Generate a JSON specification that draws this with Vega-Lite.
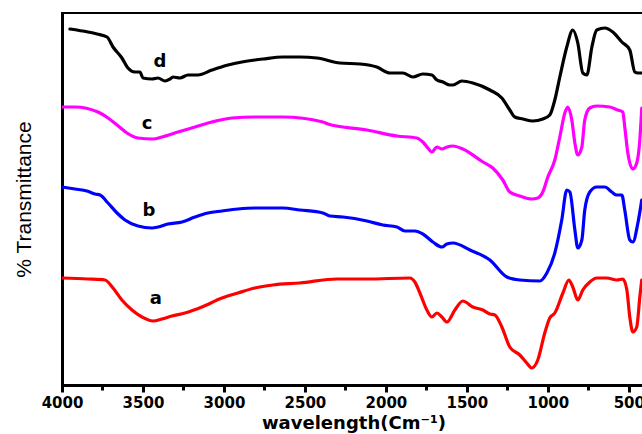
{
  "$schema": "https://vega.github.io/schema/vega-lite/v6.json",
  "width": 583,
  "height": 372,
  "autosize": {"type": "none"},
  "padding": {"left": 62, "top": 13, "right": 0, "bottom": 49},
  "background": "white",
  "config": {"view": {"stroke": "black", "strokeWidth": 2}},
  "resolve": {"axis": {"x": "independent"}},
  "datasets": {
    "spectra": [
      {"s":"d","wn":3951,"t":356},{"s":"d","wn":3840,"t":353},{"s":"d","wn":3784,"t":351},{"s":"d","wn":3722,"t":348},{"s":"d","wn":3685,"t":338},{"s":"d","wn":3630,"t":327},{"s":"d","wn":3593,"t":317},{"s":"d","wn":3549,"t":313},{"s":"d","wn":3519,"t":313},{"s":"d","wn":3500,"t":307},{"s":"d","wn":3444,"t":306},{"s":"d","wn":3407,"t":307},{"s":"d","wn":3364,"t":304},{"s":"d","wn":3333,"t":306},{"s":"d","wn":3315,"t":308},{"s":"d","wn":3272,"t":307},{"s":"d","wn":3222,"t":310},{"s":"d","wn":3160,"t":310},{"s":"d","wn":3074,"t":315},{"s":"d","wn":2975,"t":320},{"s":"d","wn":2889,"t":323},{"s":"d","wn":2809,"t":325},{"s":"d","wn":2759,"t":326},{"s":"d","wn":2636,"t":328},{"s":"d","wn":2531,"t":328},{"s":"d","wn":2426,"t":327},{"s":"d","wn":2284,"t":322},{"s":"d","wn":2160,"t":321},{"s":"d","wn":2056,"t":318},{"s":"d","wn":1975,"t":312},{"s":"d","wn":1895,"t":312},{"s":"d","wn":1833,"t":308},{"s":"d","wn":1772,"t":311},{"s":"d","wn":1716,"t":310},{"s":"d","wn":1685,"t":305},{"s":"d","wn":1648,"t":303},{"s":"d","wn":1605,"t":300},{"s":"d","wn":1586,"t":300},{"s":"d","wn":1531,"t":304},{"s":"d","wn":1463,"t":302},{"s":"d","wn":1358,"t":295},{"s":"d","wn":1284,"t":287},{"s":"d","wn":1235,"t":275},{"s":"d","wn":1204,"t":268},{"s":"d","wn":1154,"t":266},{"s":"d","wn":1093,"t":264},{"s":"d","wn":1031,"t":266},{"s":"d","wn":988,"t":270},{"s":"d","wn":957,"t":285},{"s":"d","wn":926,"t":308},{"s":"d","wn":883,"t":338},{"s":"d","wn":846,"t":355},{"s":"d","wn":815,"t":342},{"s":"d","wn":784,"t":312},{"s":"d","wn":759,"t":310},{"s":"d","wn":728,"t":338},{"s":"d","wn":698,"t":355},{"s":"d","wn":648,"t":357},{"s":"d","wn":599,"t":353},{"s":"d","wn":543,"t":343},{"s":"d","wn":494,"t":335},{"s":"d","wn":463,"t":313},{"s":"d","wn":444,"t":312},{"s":"d","wn":420,"t":312},

      {"s":"c","wn":4000,"t":278},{"s":"c","wn":3920,"t":278},{"s":"c","wn":3778,"t":273},{"s":"c","wn":3716,"t":267},{"s":"c","wn":3660,"t":260},{"s":"c","wn":3599,"t":252},{"s":"c","wn":3531,"t":247},{"s":"c","wn":3438,"t":246},{"s":"c","wn":3383,"t":248},{"s":"c","wn":3284,"t":253},{"s":"c","wn":3179,"t":258},{"s":"c","wn":3074,"t":263},{"s":"c","wn":2951,"t":267},{"s":"c","wn":2809,"t":268},{"s":"c","wn":2636,"t":268},{"s":"c","wn":2389,"t":263},{"s":"c","wn":2358,"t":261},{"s":"c","wn":2117,"t":255},{"s":"c","wn":1932,"t":249},{"s":"c","wn":1809,"t":247},{"s":"c","wn":1772,"t":243},{"s":"c","wn":1741,"t":237},{"s":"c","wn":1716,"t":233},{"s":"c","wn":1685,"t":238},{"s":"c","wn":1654,"t":236},{"s":"c","wn":1623,"t":238},{"s":"c","wn":1586,"t":239},{"s":"c","wn":1525,"t":236},{"s":"c","wn":1401,"t":223},{"s":"c","wn":1340,"t":217},{"s":"c","wn":1278,"t":205},{"s":"c","wn":1235,"t":193},{"s":"c","wn":1173,"t":189},{"s":"c","wn":1099,"t":186},{"s":"c","wn":1062,"t":187},{"s":"c","wn":1031,"t":193},{"s":"c","wn":1000,"t":208},{"s":"c","wn":957,"t":225},{"s":"c","wn":926,"t":248},{"s":"c","wn":895,"t":272},{"s":"c","wn":877,"t":278},{"s":"c","wn":852,"t":265},{"s":"c","wn":833,"t":242},{"s":"c","wn":815,"t":230},{"s":"c","wn":790,"t":238},{"s":"c","wn":772,"t":265},{"s":"c","wn":741,"t":277},{"s":"c","wn":698,"t":279},{"s":"c","wn":617,"t":278},{"s":"c","wn":568,"t":275},{"s":"c","wn":537,"t":273},{"s":"c","wn":525,"t":258},{"s":"c","wn":506,"t":232},{"s":"c","wn":475,"t":216},{"s":"c","wn":451,"t":222},{"s":"c","wn":432,"t":245},{"s":"c","wn":420,"t":277},

      {"s":"b","wn":4000,"t":198},{"s":"b","wn":3920,"t":196},{"s":"b","wn":3846,"t":194},{"s":"b","wn":3796,"t":191},{"s":"b","wn":3765,"t":190},{"s":"b","wn":3716,"t":182},{"s":"b","wn":3660,"t":172},{"s":"b","wn":3611,"t":165},{"s":"b","wn":3531,"t":159},{"s":"b","wn":3444,"t":157},{"s":"b","wn":3407,"t":158},{"s":"b","wn":3346,"t":161},{"s":"b","wn":3259,"t":163},{"s":"b","wn":3179,"t":168},{"s":"b","wn":3099,"t":172},{"s":"b","wn":3012,"t":174},{"s":"b","wn":2914,"t":176},{"s":"b","wn":2809,"t":177},{"s":"b","wn":2636,"t":177},{"s":"b","wn":2531,"t":175},{"s":"b","wn":2389,"t":172},{"s":"b","wn":2346,"t":169},{"s":"b","wn":2265,"t":168},{"s":"b","wn":2117,"t":164},{"s":"b","wn":2019,"t":160},{"s":"b","wn":1932,"t":158},{"s":"b","wn":1883,"t":154},{"s":"b","wn":1821,"t":154},{"s":"b","wn":1772,"t":151},{"s":"b","wn":1710,"t":143},{"s":"b","wn":1654,"t":138},{"s":"b","wn":1623,"t":141},{"s":"b","wn":1586,"t":142},{"s":"b","wn":1481,"t":135},{"s":"b","wn":1358,"t":125},{"s":"b","wn":1253,"t":108},{"s":"b","wn":1173,"t":105},{"s":"b","wn":1049,"t":104},{"s":"b","wn":1006,"t":112},{"s":"b","wn":957,"t":132},{"s":"b","wn":914,"t":165},{"s":"b","wn":883,"t":195},{"s":"b","wn":864,"t":193},{"s":"b","wn":833,"t":155},{"s":"b","wn":815,"t":137},{"s":"b","wn":790,"t":145},{"s":"b","wn":772,"t":175},{"s":"b","wn":741,"t":193},{"s":"b","wn":698,"t":198},{"s":"b","wn":648,"t":198},{"s":"b","wn":605,"t":193},{"s":"b","wn":574,"t":190},{"s":"b","wn":543,"t":190},{"s":"b","wn":525,"t":175},{"s":"b","wn":494,"t":145},{"s":"b","wn":475,"t":143},{"s":"b","wn":444,"t":162},{"s":"b","wn":420,"t":185},

      {"s":"a","wn":4000,"t":107},{"s":"a","wn":3840,"t":106},{"s":"a","wn":3735,"t":105},{"s":"a","wn":3685,"t":97},{"s":"a","wn":3630,"t":85},{"s":"a","wn":3568,"t":75},{"s":"a","wn":3506,"t":68},{"s":"a","wn":3438,"t":64},{"s":"a","wn":3383,"t":66},{"s":"a","wn":3321,"t":69},{"s":"a","wn":3241,"t":72},{"s":"a","wn":3136,"t":78},{"s":"a","wn":3012,"t":87},{"s":"a","wn":2914,"t":92},{"s":"a","wn":2809,"t":97},{"s":"a","wn":2698,"t":100},{"s":"a","wn":2531,"t":102},{"s":"a","wn":2302,"t":106},{"s":"a","wn":2117,"t":106},{"s":"a","wn":1852,"t":107},{"s":"a","wn":1821,"t":103},{"s":"a","wn":1790,"t":92},{"s":"a","wn":1747,"t":75},{"s":"a","wn":1716,"t":68},{"s":"a","wn":1685,"t":72},{"s":"a","wn":1654,"t":68},{"s":"a","wn":1623,"t":63},{"s":"a","wn":1574,"t":75},{"s":"a","wn":1525,"t":84},{"s":"a","wn":1463,"t":78},{"s":"a","wn":1401,"t":75},{"s":"a","wn":1358,"t":71},{"s":"a","wn":1327,"t":70},{"s":"a","wn":1284,"t":58},{"s":"a","wn":1235,"t":38},{"s":"a","wn":1173,"t":30},{"s":"a","wn":1130,"t":22},{"s":"a","wn":1099,"t":17},{"s":"a","wn":1062,"t":25},{"s":"a","wn":1019,"t":52},{"s":"a","wn":988,"t":67},{"s":"a","wn":957,"t":72},{"s":"a","wn":907,"t":92},{"s":"a","wn":870,"t":105},{"s":"a","wn":846,"t":98},{"s":"a","wn":815,"t":85},{"s":"a","wn":784,"t":95},{"s":"a","wn":741,"t":103},{"s":"a","wn":698,"t":107},{"s":"a","wn":636,"t":107},{"s":"a","wn":574,"t":105},{"s":"a","wn":537,"t":106},{"s":"a","wn":512,"t":95},{"s":"a","wn":494,"t":68},{"s":"a","wn":475,"t":53},{"s":"a","wn":451,"t":58},{"s":"a","wn":432,"t":88},{"s":"a","wn":420,"t":105}
    ],
    "labels": [
      {"s":"d","wn":3395,"t":323},
      {"s":"c","wn":3475,"t":261},
      {"s":"b","wn":3463,"t":174},
      {"s":"a","wn":3420,"t":86}
    ],
    "minor": [
      {"m":3750},{"m":3250},{"m":2750},{"m":2250},{"m":1750},{"m":1250},{"m":750}
    ]
  },
  "layer": [
    {
      "data": {"name": "spectra"},
      "mark": {"type": "line", "interpolate": "monotone", "strokeWidth": 3.2, "strokeJoin": "round", "strokeCap": "round", "clip": true},
      "encoding": {
        "x": {
          "field": "wn", "type": "quantitative",
          "scale": {"domain": [4000, 400], "nice": false, "zero": false},
          "axis": {
            "orient": "bottom",
            "values": [4000, 3500, 3000, 2500, 2000, 1500, 1000, 500],
            "format": "d",
            "title": "wavelength(Cm⁻¹)",
            "titleFont": "DejaVu Sans", "titleFontSize": 18, "titleFontWeight": "bold", "titleColor": "black", "titlePadding": 4,
            "labelFont": "DejaVu Sans", "labelFontSize": 15, "labelFontWeight": "bold", "labelColor": "black", "labelPadding": 3,
            "labelFlush": false,
            "domainColor": "black", "domainWidth": 3,
            "tickColor": "black", "tickWidth": 3, "tickSize": 7,
            "grid": false, "zindex": 1
          }
        },
        "y": {
          "field": "t", "type": "quantitative",
          "scale": {"domain": [0, 372], "nice": false, "zero": false},
          "axis": {
            "title": "% Transmittance",
            "titleFont": "Liberation Sans Narrow, Liberation Sans", "titleFontSize": 21, "titleFontWeight": "normal", "titleColor": "black", "titlePadding": 28,
            "labels": false, "ticks": false,
            "domainColor": "black", "domainWidth": 3, "grid": false
          }
        },
        "color": {
          "field": "s", "type": "nominal",
          "scale": {"domain": ["a", "b", "c", "d"], "range": ["#ff0000", "#0000ff", "#ff00ff", "#000000"]},
          "legend": null
        },
        "order": {"field": "wn", "type": "quantitative", "sort": "descending"}
      }
    },
    {
      "data": {"name": "minor"},
      "mark": {"type": "tick", "opacity": 0},
      "encoding": {
        "x": {
          "field": "m", "type": "quantitative",
          "axis": {
            "orient": "bottom",
            "values": [3750, 3250, 2750, 2250, 1750, 1250, 750],
            "labels": false, "domain": false, "title": null, "grid": false,
            "tickColor": "black", "tickWidth": 3, "tickSize": 5, "zindex": 1
          }
        }
      }
    },
    {
      "data": {"name": "labels"},
      "mark": {"type": "text", "font": "DejaVu Sans", "fontSize": 18, "fontWeight": "bold", "color": "black", "align": "center", "baseline": "middle"},
      "encoding": {
        "x": {"field": "wn", "type": "quantitative", "axis": null},
        "y": {"field": "t", "type": "quantitative"},
        "text": {"field": "s", "type": "nominal"}
      }
    }
  ]
}
